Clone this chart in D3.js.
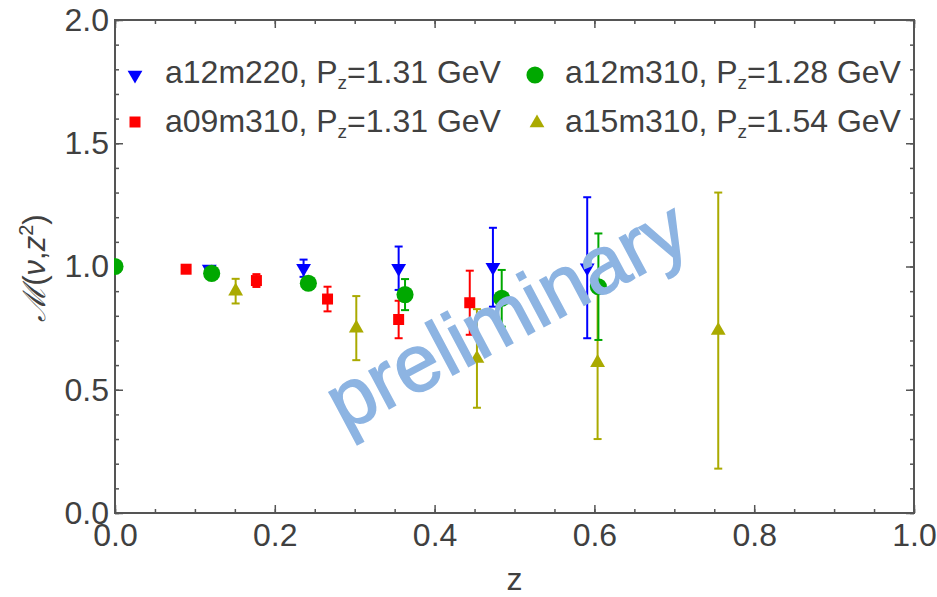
<!DOCTYPE html>
<html>
<head>
<meta charset="utf-8">
<script src="https://cdn.jsdelivr.net/npm/d3@7"></script>
<style>
  body { margin: 0; background: #fff; }
  svg text { font-family: "Liberation Sans", Arial, sans-serif; fill: #404040; }
</style>
</head>
<body>
<div id="chart"></div>
<script>
// Series: z values, matrix element and error for each ensemble
const zA12m220 = [0, 0.118, 0.236, 0.355, 0.473, 0.591];
const mA12m220 = [1.0, 0.99, 0.993, 0.993, 0.997, 0.995];
const eA12m220 = [0, 0.005, 0.035, 0.088, 0.16, 0.286];

const zA09m310 = [0, 0.089, 0.177, 0.266, 0.355, 0.444];
const mA09m310 = [1.0, 0.989, 0.943, 0.868, 0.785, 0.853];
const eA09m310 = [0, 0.006, 0.026, 0.05, 0.076, 0.13];

const zA12m310 = [0, 0.121, 0.242, 0.363, 0.484, 0.605];
const mA12m310 = [1.0, 0.972, 0.932, 0.886, 0.871, 0.918];
const eA12m310 = [0, 0.01, 0.015, 0.063, 0.115, 0.216];

const zA15m310 = [0, 0.151, 0.302, 0.453, 0.604, 0.755];
const mA15m310 = [1.0, 0.90, 0.75, 0.627, 0.61, 0.74];
const eA15m310 = [0, 0.05, 0.13, 0.2, 0.31, 0.56];

const xTicks = [0, 0.2, 0.4, 0.6, 0.8, 1.0];
const yTicks = [0, 0.5, 1.0, 1.5, 2.0];

const width = 937;
const height = 597;
const margin = { top: 20, right: 23, bottom: 84, left: 115 };

const svg = d3.select('#chart')
  .append('svg')
  .attr('width', width)
  .attr('height', height);

const x = d3.scaleLinear().domain([0, 1]).range([margin.left, width - margin.right]);
const y = d3.scaleLinear().domain([0, 2]).range([height - margin.bottom, margin.top]);

const series = [
  { label: 'a12m220', pz: '1.31', color: '#0000ff', symbol: 'down', z: zA12m220, m: mA12m220, e: eA12m220 },
  { label: 'a09m310', pz: '1.31', color: '#ff0000', symbol: 'square', z: zA09m310, m: mA09m310, e: eA09m310 },
  { label: 'a15m310', pz: '1.54', color: '#aaaa00', symbol: 'up', z: zA15m310, m: mA15m310, e: eA15m310 },
  { label: 'a12m310', pz: '1.28', color: '#00a800', symbol: 'circle', z: zA12m310, m: mA12m310, e: eA12m310 }
];

function marker(sel, s) {
  if (s.symbol === 'circle') {
    sel.append('path').attr('d', d3.symbol(d3.symbolCircle, 230)()).attr('fill', s.color);
  } else if (s.symbol === 'square') {
    sel.append('path').attr('d', d3.symbol(d3.symbolSquare, 121)()).attr('fill', s.color);
  } else {
    sel.append('path')
      .attr('d', d3.symbol(d3.symbolTriangle, 95)())
      .attr('transform', s.symbol === 'down' ? 'rotate(180)' : null)
      .attr('fill', s.color);
  }
}

// Axes: minor and major ticks on all four sides, pointing inwards
const frame = svg.append('g').attr('class', 'axes');
function addAxis(axis, tx, ty) {
  const g = frame.append('g').attr('transform', `translate(${tx},${ty})`).call(axis);
  g.select('.domain').remove();
  g.selectAll('line').attr('stroke', '#555').attr('stroke-width', 1.5);
  g.selectAll('text').attr('font-size', 32).attr('fill', '#404040').style('font-family', '"Liberation Sans", Arial, sans-serif');
  return g;
}
const fmt = d3.format('.1f');
const xMinor = d3.range(0, 1.0001, 0.05);
const yMinor = d3.range(0, 2.0001, 0.1);
const bottom = height - margin.bottom;
const right = width - margin.right;

addAxis(d3.axisBottom(x).tickValues(xMinor).tickSize(-4).tickFormat(''), 0, bottom);
addAxis(d3.axisBottom(x).tickValues(xTicks).tickSize(-8).tickPadding(10).tickFormat(fmt), 0, bottom);
addAxis(d3.axisTop(x).tickValues(xMinor).tickSize(-4).tickFormat(''), 0, margin.top);
addAxis(d3.axisTop(x).tickValues(xTicks).tickSize(-8).tickFormat(''), 0, margin.top);
addAxis(d3.axisLeft(y).tickValues(yMinor).tickSize(-4).tickFormat(''), margin.left, 0);
addAxis(d3.axisLeft(y).tickValues(yTicks).tickSize(-8).tickPadding(6).tickFormat(fmt), margin.left, 0);
addAxis(d3.axisRight(y).tickValues(yMinor).tickSize(-4).tickFormat(''), right, 0);
addAxis(d3.axisRight(y).tickValues(yTicks).tickSize(-8).tickFormat(''), right, 0);

frame.append('rect')
  .attr('x', margin.left)
  .attr('y', margin.top)
  .attr('width', right - margin.left)
  .attr('height', bottom - margin.top)
  .attr('fill', 'none')
  .attr('stroke', '#555')
  .attr('stroke-width', 2);

// points are clipped to the plot range (the z=0 markers sit on the frame)
svg.append('clipPath').attr('id', 'plot-clip')
  .append('rect')
  .attr('x', margin.left - 1)
  .attr('y', margin.top)
  .attr('width', right - margin.left + 1)
  .attr('height', bottom - margin.top);

// Data points with error bars
const plot = svg.append('g').attr('class', 'points').attr('clip-path', 'url(#plot-clip)');
series.forEach(s => {
  const pts = s.z.map((z, i) => ({ z, m: s.m[i], e: s.e[i] }));
  const g = plot.append('g');
  const bars = g.selectAll('g.bar')
    .data(pts.filter(d => d.e > 0))
    .enter()
    .append('g')
    .attr('class', 'bar')
    .attr('stroke', s.color)
    .attr('stroke-width', 2);
  bars.append('line')
    .attr('x1', d => x(d.z)).attr('x2', d => x(d.z))
    .attr('y1', d => y(d.m - d.e)).attr('y2', d => y(d.m + d.e));
  [-1, 1].forEach(sign => {
    bars.append('line')
      .attr('x1', d => x(d.z) - 4).attr('x2', d => x(d.z) + 4)
      .attr('y1', d => y(d.m + sign * d.e)).attr('y2', d => y(d.m + sign * d.e));
  });
  g.selectAll('g.pt')
    .data(pts)
    .enter()
    .append('g')
    .attr('class', 'pt')
    .attr('transform', d => `translate(${x(d.z)},${y(d.m)})`)
    .each(function () { marker(d3.select(this), s); });
});

// Legend, two columns
const legendPos = {
  a12m220: [135, 75, 165, 83],
  a09m310: [135, 122, 165, 132],
  a12m310: [535, 75, 565, 83],
  a15m310: [537, 123, 565, 132]
};
series.forEach(s => {
  const [mx, my, tx, ty] = legendPos[s.label];
  const g = svg.append('g').attr('transform', `translate(${mx},${my})`);
  marker(g, s);
  const t = svg.append('text').attr('x', tx).attr('y', ty).attr('font-size', 32);
  t.append('tspan').text(`${s.label}, P`);
  t.append('tspan').attr('font-size', 19).attr('dy', 6).text('z');
  t.append('tspan').attr('dy', -6).text(`=${s.pz} GeV`);
});

// Axis titles
svg.append('text')
  .attr('x', x(0.5))
  .attr('y', 590)
  .attr('text-anchor', 'middle')
  .attr('font-size', 32)
  .text('z');

const yTitle = svg.append('text')
  .attr('transform', 'translate(45,268) rotate(-90)')
  .attr('text-anchor', 'middle')
  .attr('font-size', 31);
yTitle.append('tspan').style('font-family', '"DejaVu Serif", serif').attr('font-style', 'italic').text('ℳ');
yTitle.append('tspan').text('(');
yTitle.append('tspan').attr('font-style', 'italic').text('ν');
yTitle.append('tspan').text(',');
yTitle.append('tspan').attr('font-style', 'italic').text('z');
yTitle.append('tspan').attr('font-size', 20).attr('dy', -12).text('2');
yTitle.append('tspan').attr('dy', 12).text(')');

// Watermark
svg.append('text')
  .attr('transform', 'translate(508,318) rotate(-28)')
  .attr('text-anchor', 'middle')
  .attr('dy', '0.3em')
  .attr('font-size', 81)
  .style('fill', '#8db4e2')
  .style('stroke', '#8db4e2')
  .style('stroke-width', 1.5)
  .text('preliminary');
</script>
</body>
</html>
